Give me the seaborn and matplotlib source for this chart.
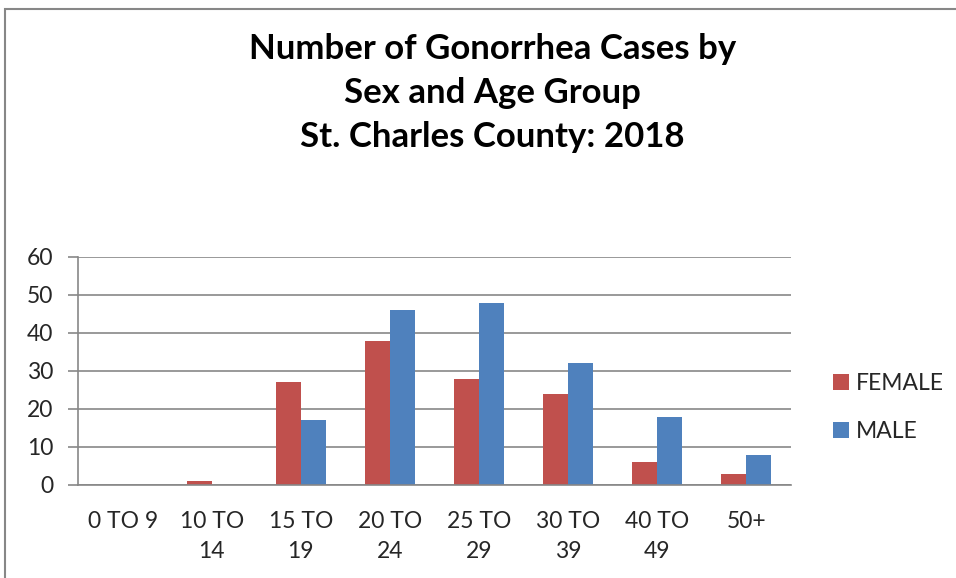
import numpy as np
import pandas as pd
import seaborn as sns
import matplotlib.pyplot as plt
from matplotlib.patches import Rectangle

# values
age_groups = ["0 TO 9", "10 TO\n14", "15 TO\n19", "20 TO\n24", "25 TO\n29",
              "30 TO\n39", "40 TO\n49", "50+"]
female = [0, 1, 27, 38, 28, 24, 6, 3]
male = [0, 0, 17, 46, 48, 32, 18, 8]
sexes = ["FEMALE", "MALE"]
colors = ["#C0504D", "#4F81BD"]

df = pd.DataFrame({
    "age": age_groups * 2,
    "sex": [sexes[0]] * len(age_groups) + [sexes[1]] * len(age_groups),
    "cases": female + male,
})

sns.set_style("white")
plt.rcParams['font.family'] = ['Lato', 'DejaVu Sans']

fig = plt.figure(figsize=(9.56, 5.78), dpi=100)
ax = fig.add_axes([0.0816, 0.1609, 0.7458, 0.3945])

sns.barplot(data=df, x="age", y="cases", hue="sex", palette=colors,
            width=0.56, gap=0, saturation=1, linewidth=0, ax=ax, legend=True)

grid_c = "#878787"
ax.set_ylim(0, 60)
ax.set_xlim(-0.5, len(age_groups) - 0.5)
ax.set_yticks(range(0, 61, 10))
ax.yaxis.grid(True, color=grid_c, lw=1.2)
ax.set_axisbelow(True)
for s in ["top", "right"]:
    ax.spines[s].set_visible(False)
for s in ["left", "bottom"]:
    ax.spines[s].set_color(grid_c)
    ax.spines[s].set_linewidth(1.2)

ax.set_xticks(np.arange(-0.5, len(age_groups)), minor=True)
ax.tick_params(axis="x", which="major", length=0, pad=19, labelsize=16.5)
ax.tick_params(axis="x", which="minor", length=7, color=grid_c, width=1.2,
               direction="out")
ax.tick_params(axis="y", length=7, color=grid_c, width=1.2, labelsize=16.5,
               left=True, pad=11)
for t in ax.get_xticklabels():
    t.set_linespacing(1.5)
ax.set_xlabel("")
ax.set_ylabel("")

leg = ax.legend(loc="center left", bbox_to_anchor=(1.059, 0.34), frameon=False,
                fontsize=16.5, handlelength=0.7, handleheight=0.7,
                handletextpad=0.3, labelspacing=1.15, borderpad=0,
                borderaxespad=0)

fig.text(0.515, 0.839, "Number of Gonorrhea Cases by\nSex and Age Group\nSt. Charles County: 2018",
         ha="center", va="center", fontsize=25, fontweight="bold",
         linespacing=1.45, color="black")

# outer chart frame
fig.patches.append(Rectangle((5 / 956, -0.1), 1.2, 1.1 - 9 / 578,
                             transform=fig.transFigure, fill=False,
                             edgecolor="#878787", lw=1.5))

fig.savefig("out.png", dpi=100)
